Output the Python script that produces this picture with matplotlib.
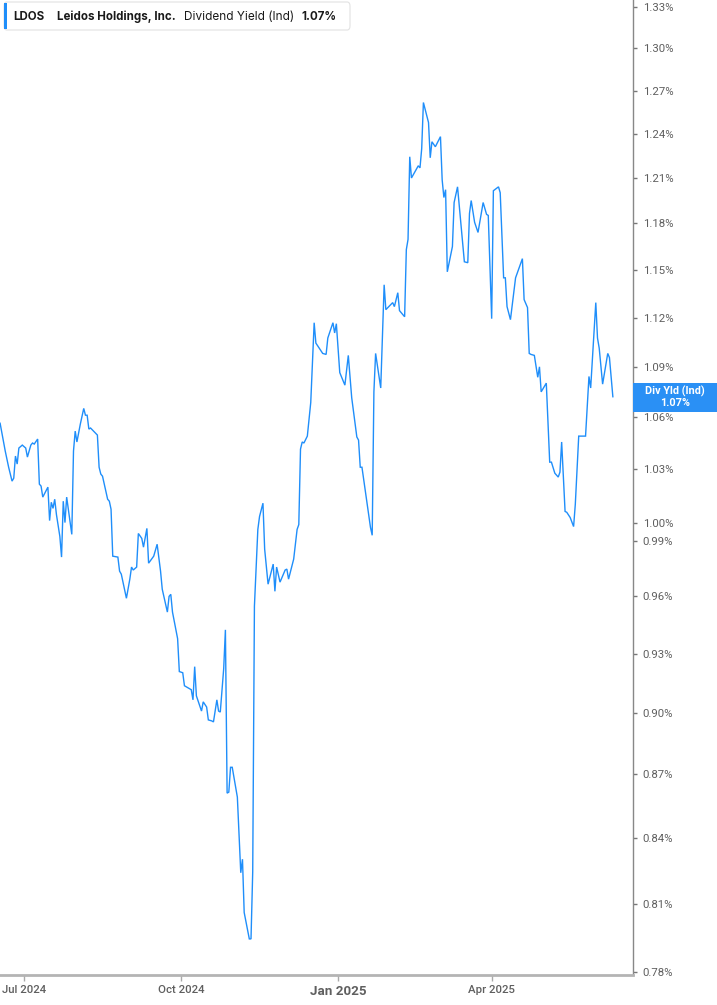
import matplotlib
matplotlib.use("Agg")
import matplotlib.pyplot as plt
from matplotlib.ticker import FixedLocator, FixedFormatter, NullLocator
from matplotlib.patches import FancyBboxPatch, Rectangle
import pandas as pd

# dividend yield (%)
dates = [
    "2024-06-17", "2024-06-20", "2024-06-22", "2024-06-24", "2024-06-25", "2024-06-26",
    "2024-06-27", "2024-06-28", "2024-06-30", "2024-07-02", "2024-07-03", "2024-07-05",
    "2024-07-06", "2024-07-07", "2024-07-09", "2024-07-10", "2024-07-11", "2024-07-12",
    "2024-07-15", "2024-07-16", "2024-07-17", "2024-07-18", "2024-07-19", "2024-07-20",
    "2024-07-22", "2024-07-23", "2024-07-24", "2024-07-25", "2024-07-26", "2024-07-29",
    "2024-07-30", "2024-07-31", "2024-08-01", "2024-08-03", "2024-08-05", "2024-08-06",
    "2024-08-07", "2024-08-08", "2024-08-09", "2024-08-13", "2024-08-14", "2024-08-15",
    "2024-08-16", "2024-08-19", "2024-08-20", "2024-08-21", "2024-08-22", "2024-08-25",
    "2024-08-26", "2024-08-27", "2024-08-30", "2024-09-01", "2024-09-02", "2024-09-03",
    "2024-09-05", "2024-09-06", "2024-09-08", "2024-09-09", "2024-09-11", "2024-09-12",
    "2024-09-15", "2024-09-17", "2024-09-19", "2024-09-20", "2024-09-23", "2024-09-24",
    "2024-09-25", "2024-09-26", "2024-09-29", "2024-09-30", "2024-10-02", "2024-10-03",
    "2024-10-05", "2024-10-07", "2024-10-08", "2024-10-09", "2024-10-10", "2024-10-13",
    "2024-10-14", "2024-10-16", "2024-10-17", "2024-10-19", "2024-10-20", "2024-10-22",
    "2024-10-23", "2024-10-24", "2024-10-26", "2024-10-27", "2024-10-28", "2024-10-29",
    "2024-10-30", "2024-10-31", "2024-11-03", "2024-11-05", "2024-11-06", "2024-11-07",
    "2024-11-10", "2024-11-11", "2024-11-12", "2024-11-13", "2024-11-15", "2024-11-16",
    "2024-11-18", "2024-11-19", "2024-11-21", "2024-11-24", "2024-11-25", "2024-11-26",
    "2024-11-28", "2024-12-01", "2024-12-02", "2024-12-03", "2024-12-06", "2024-12-08",
    "2024-12-09", "2024-12-10", "2024-12-11", "2024-12-12", "2024-12-14", "2024-12-16",
    "2024-12-18", "2024-12-19", "2024-12-21", "2024-12-23", "2024-12-25", "2024-12-26",
    "2024-12-29", "2024-12-30", "2024-12-31", "2025-01-02", "2025-01-05", "2025-01-07",
    "2025-01-09", "2025-01-12", "2025-01-13", "2025-01-14", "2025-01-15", "2025-01-20",
    "2025-01-21", "2025-01-22", "2025-01-23", "2025-01-26", "2025-01-28", "2025-01-29",
    "2025-02-02", "2025-02-03", "2025-02-05", "2025-02-06", "2025-02-09", "2025-02-10",
    "2025-02-11", "2025-02-12", "2025-02-13", "2025-02-17", "2025-02-18", "2025-02-19",
    "2025-02-20", "2025-02-23", "2025-02-24", "2025-02-25", "2025-02-27", "2025-03-02",
    "2025-03-03", "2025-03-04", "2025-03-05", "2025-03-06", "2025-03-09", "2025-03-10",
    "2025-03-12", "2025-03-16", "2025-03-18", "2025-03-19", "2025-03-20", "2025-03-22",
    "2025-03-24", "2025-03-27", "2025-03-29", "2025-03-30", "2025-04-01", "2025-04-02",
    "2025-04-05", "2025-04-06", "2025-04-08", "2025-04-09", "2025-04-10", "2025-04-12",
    "2025-04-15", "2025-04-19", "2025-04-20", "2025-04-22", "2025-04-23", "2025-04-24",
    "2025-04-26", "2025-04-28", "2025-04-29", "2025-04-30", "2025-05-03", "2025-05-05",
    "2025-05-06", "2025-05-08", "2025-05-10", "2025-05-11", "2025-05-12", "2025-05-14",
    "2025-05-15", "2025-05-17", "2025-05-19", "2025-05-20", "2025-05-22", "2025-05-26",
    "2025-05-28", "2025-05-29", "2025-06-01", "2025-06-02", "2025-06-03", "2025-06-05",
    "2025-06-08", "2025-06-09", "2025-06-11",
]
yield_pct = [
    1.0565, 1.0404, 1.0311, 1.0232, 1.0249, 1.0375,
    1.0329, 1.0421, 1.0438, 1.0421, 1.0369, 1.0438,
    1.0450, 1.0444, 1.0473, 1.0215, 1.0204, 1.0142,
    1.0198, 1.0011, 1.0113, 1.0079, 1.0130, 1.0045,
    0.9924, 0.9811, 1.0119, 1.0000, 1.0142, 0.9935,
    1.0404, 1.0519, 1.0456, 1.0560, 1.0652, 1.0612,
    1.0612, 1.0531, 1.0537, 1.0496, 1.0311, 1.0272,
    1.0260, 1.0130, 1.0119, 1.0074, 0.9816, 0.9811,
    0.9735, 0.9719, 0.9590, 0.9692, 0.9757, 0.9741,
    0.9757, 0.9940, 0.9913, 0.9865, 0.9968, 0.9778,
    0.9816, 0.9881, 0.9735, 0.9638, 0.9517, 0.9600,
    0.9611, 0.9517, 0.9378, 0.9209, 0.9203, 0.9137,
    0.9127, 0.9117, 0.9066, 0.9234, 0.9086, 0.9010,
    0.9056, 0.9030, 0.8966, 0.8961, 0.8956, 0.9066,
    0.9010, 0.9005, 0.9224, 0.9424, 0.8610, 0.8615,
    0.8734, 0.8734, 0.8591, 0.8239, 0.8301, 0.8060,
    0.7943, 0.7943, 0.8243, 0.9548, 0.9962, 1.0034,
    1.0108, 0.9854, 0.9665, 0.9773, 0.9627, 0.9757,
    0.9676, 0.9741, 0.9746, 0.9692, 0.9800, 0.9962,
    0.9989, 1.0415, 1.0456, 1.0450, 1.0490, 1.0687,
    1.1169, 1.1044, 1.1013, 1.0981, 1.0975, 1.1075,
    1.1169, 1.1106, 1.1163, 1.0865, 1.0790, 1.0969,
    1.0715, 1.0485, 1.0467, 1.0311, 1.0311, 0.9973,
    0.9930, 1.0750, 1.0981, 1.0773, 1.1406, 1.1250,
    1.1294, 1.1269, 1.1356, 1.1244, 1.1206, 1.1630,
    1.1696, 1.2243, 1.2100, 1.2182, 1.2168, 1.2298,
    1.2616, 1.2477, 1.2236, 1.2345, 1.2311, 1.2380,
    1.2087, 1.1970, 1.2022, 1.1488, 1.1650, 1.1937,
    1.2041, 1.1552, 1.1546, 1.1865, 1.1950, 1.1807,
    1.1741, 1.1937, 1.1859, 1.1852, 1.1194, 1.2015,
    1.2041, 1.2002, 1.1450, 1.1450, 1.1269, 1.1188,
    1.1450, 1.1572, 1.1313, 1.1263, 1.0981, 1.0975,
    1.0969, 1.0837, 1.0900, 1.0750, 1.0802, 1.0340,
    1.0340, 1.0277, 1.0255, 1.0283, 1.0456, 1.0062,
    1.0057, 1.0028, 0.9978, 1.0102, 1.0490, 1.0490,
    1.0842, 1.0773, 1.1294, 1.1075, 1.1013, 1.0796,
    1.0981, 1.0956, 1.0721,
]

y_ticks = [0.78, 0.81, 0.84, 0.87, 0.90, 0.93, 0.96, 0.99, 1.00, 1.03,
           1.06, 1.09, 1.12, 1.15, 1.18, 1.21, 1.24, 1.27, 1.30, 1.33]
x_ticks = ["2024-07-01", "2024-10-01", "2025-01-01", "2025-04-01"]
x_labels = ["Jul 2024", "Oct 2024", "Jan 2025", "Apr 2025"]

ticker = "LDOS"
company = "Leidos Holdings, Inc."
metric = "Dividend Yield (Ind)"
last_label = "1.07%"

W, H = 717, 1005
LINE = "#1f8efa"
GREY = "#5f5f5f"

plt.rcParams["font.family"] = ["Roboto", "DejaVu Sans"]

fig = plt.figure(figsize=(W / 100, H / 100), dpi=100)
ax = fig.add_axes([0, 30 / H, 633 / W, 1 - 30 / H])

x = pd.to_datetime(dates)
ax.plot(x, yield_pct, color=LINE, lw=1.0, solid_joinstyle="miter")

ax.set_yscale("log")
ax.set_ylim(0.7786, 1.3352)
ax.yaxis.set_major_locator(FixedLocator(y_ticks))
ax.yaxis.set_major_formatter(FixedFormatter(["%.2f%%" % t for t in y_ticks]))
ax.yaxis.set_minor_locator(NullLocator())
ax.yaxis.tick_right()
ax.tick_params(axis="y", length=3, width=1, color="#777777", pad=4,
               labelsize=8.2, labelcolor=GREY)

start = pd.Timestamp("2024-07-01")
ax.set_xlim(start - pd.Timedelta(days=14.06), start + pd.Timedelta(days=356.8))
ax.set_xticks(pd.to_datetime(x_ticks))
ax.set_xticklabels(x_labels)
ax.xaxis.set_minor_locator(NullLocator())
ax.tick_params(axis="x", length=4, width=1, color="#aaaaaa", pad=3,
               labelsize=8.2, labelcolor=GREY)
for lbl in ax.get_xticklabels():
    lbl.set_fontweight("medium")
    if lbl.get_text().startswith("Jan"):
        lbl.set_fontweight("bold")
        lbl.set_fontsize(9.6)

for side in ("left", "top"):
    ax.spines[side].set_visible(False)
ax.spines["right"].set_color("#888888")
ax.spines["right"].set_linewidth(1)
ax.spines["bottom"].set_color("#b4b4b4")
ax.spines["bottom"].set_linewidth(2)


def fx(px):
    return px / W


def fy(py):
    return 1 - py / H


# header box
fig.patches.append(FancyBboxPatch((fx(4), fy(30)), fx(346), 28 / H,
                                  boxstyle="round,pad=0,rounding_size=0.004",
                                  transform=fig.transFigure, facecolor="white",
                                  edgecolor="#e2e2e2", lw=0.8))
fig.patches.append(Rectangle((fx(4), fy(29)), fx(3), 26 / H,
                             transform=fig.transFigure, facecolor=LINE,
                             edgecolor="none"))
hy = fy(17)
hfont = ["Inter", "DejaVu Sans"]
fig.text(fx(13), hy, ticker, fontsize=8.3, fontweight="bold", color="#1a1a1a",
         va="center", family=hfont)
fig.text(fx(57), hy, company, fontsize=8.3, fontweight="bold", color="#1a1a1a",
         va="center", family=hfont)
fig.text(fx(184), hy, metric, fontsize=8.5, color="#1a1a1a", va="center", family=hfont)
fig.text(fx(301), hy, last_label, fontsize=8.3, fontweight="bold", color="#1a1a1a",
         va="center", family=hfont)

# last value tag on the axis
fig.patches.append(Rectangle((fx(633), fy(412)), fx(84), 29 / H,
                             transform=fig.transFigure, facecolor="#2a90f5",
                             edgecolor="none"))
fig.text(fx(675), fy(391), "Div Yld (Ind)", fontsize=7.8, fontweight="bold",
         color="white", ha="center", va="center")
fig.text(fx(675), fy(403), last_label, fontsize=7.8, fontweight="bold",
         color="white", ha="center", va="center")

fig.savefig("out.png", dpi=100)
